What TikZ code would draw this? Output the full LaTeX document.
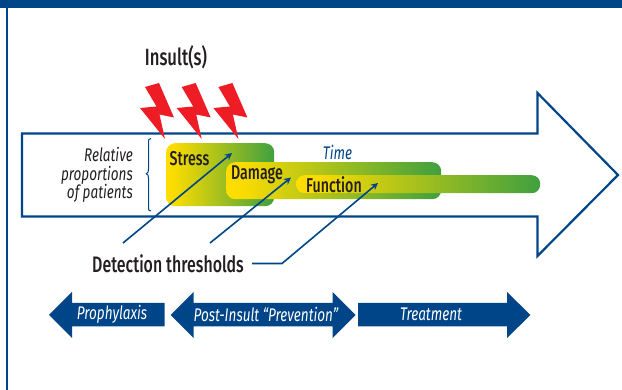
\documentclass[tikz,border=0pt]{standalone}
\usepackage{fontspec}
\setmainfont[FakeStretch=0.74]{Fira Sans}
\newfontfamily\boldcn[FakeStretch=0.71]{Fira Sans Medium}
\usetikzlibrary{arrows.meta}
\definecolor{navy}{HTML}{004587}
\definecolor{ylw}{HTML}{FFDD00}
\definecolor{grn}{HTML}{3FA03F}
\definecolor{bolt}{HTML}{EE1C25}
\definecolor{ink}{HTML}{231F20}
\pgfdeclarehorizontalshading{ygshade}{100bp}{color(0bp)=(ylw); color(25bp)=(ylw); color(29bp)=(ylw!97!grn); color(75bp)=(grn); color(100bp)=(grn)}
\tikzset{
  band/.style={inner sep=0pt,shading=ygshade,rounded corners=#1,anchor=north west},
  lab/.style={inner sep=0pt,text=ink,font=\fontsize{20}{20}\selectfont\boldcn},
  heavy/.style={inner sep=0pt,text=ink,font=\fontsize{22.4}{22.4}\selectfont\boldcn},
  ital/.style={inner sep=0pt,text=ink,font=\fontsize{18.3}{18.5}\selectfont\itshape,align=right},
  pointer/.style={draw=navy,line width=1.6pt,-{Stealth[length=7pt,width=7pt]}},
  wide/.style={fill=navy,draw=none},
  boltshape/.style={fill=bolt,draw=none},
  wtext/.style={inner sep=0pt,text=white,font=\fontsize{18.3}{18.3}\selectfont\itshape},
}
\newcommand{\boltat}[1]{\fill[boltshape,shift={(#1,0)}] (145,87)--(159,83)--(174,117.5)--(159.5,114.5)--(165,139)--(140,108)--(156.5,106.5)--cycle;}
\begin{document}
\begin{tikzpicture}[x=1pt,y=-1pt]
\useasboundingbox (0,0) rectangle (622,390);
% frame
\fill[navy] (0,0) rectangle (622,8.5);
\fill[navy] (5.5,0) rectangle (7.8,390);
% large outlined arrow
\draw[navy,line width=2.2pt,miter limit=10] (22,133.5)--(537.5,133.5)--(537.5,93)--(618,175)--(537.5,256)--(537.5,216.5)--(22,216.5)--cycle;
% bolts
\boltat{0}\boltat{36.7}\boltat{73.4}
\node[heavy] (insult) at (176,57) {\fontsize{23.5}{23.5}\selectfont Insult(s)};
% brace
\draw[navy,line width=1pt] (151,138.5) .. controls (148.5,138.5) and (148.5,140) .. (148.5,143) -- (148.5,169) .. controls (148.5,172) and (148,173) .. (146.3,173.7) .. controls (148,174.5) and (148.5,175.5) .. (148.5,178) -- (148.5,207) .. controls (148.5,210) and (148.5,211) .. (151,211);
\node[ital,anchor=east] (rel) at (133,175) {Relative\\proportions\\of patients};
% bands
\node[band=9pt,minimum width=108pt,minimum height=63pt] (stressbox) at (166,143) {};
\node[band=9pt,minimum width=215pt,minimum height=37pt] (damagebox) at (226,162) {};
\node[band=8.5pt,minimum width=244pt,minimum height=18pt] (functionbox) at (296,175) {};
\node[lab] (stress) at (189.5,158.5) {Stress};
\node[lab] (damage) at (257,175) {Damage};
\node[lab] (function) at (334,184.5) {Function};
\node[inner sep=0pt,text=navy,font=\fontsize{18.3}{18.3}\selectfont\itshape] (time) at (337.5,152.5) {Time};
% detection thresholds
\node[heavy] (detect) at (168,263.5) {Detection thresholds};
\coordinate (s0) at (123,243);
\coordinate (s1) at (232,153);
\coordinate (d0) at (210,243);
\coordinate (d1) at (291,177.5);
\coordinate (f0) at (252,263.5);
\coordinate (f1) at (282,263.5);
\coordinate (f2) at (378,183);
\draw[pointer] (s0)--(s1);
\draw[pointer] (d0)--(d1);
\draw[pointer] (f0)--(f1)--(f2);
% lower arrows
\fill[wide] (49,315)--(72,292)--(72,303)--(164.5,303)--(164.5,326.5)--(72,326.5)--(72,338)--cycle;
\fill[wide] (170.5,315)--(193.5,292)--(193.5,303)--(332.5,303)--(332.5,292)--(355.5,315)--(332.5,338)--(332.5,326.5)--(193.5,326.5)--(193.5,338)--cycle;
\fill[wide] (358,303)--(507,303)--(507,292)--(530.5,315)--(507,338)--(507,326.5)--(358,326.5)--cycle;
\node[wtext] (pro) at (112,314) {Prophylaxis};
\node[wtext] (post) at (266,314) {Post-Insult “Prevention”};
\node[wtext] (treat) at (431,314) {Treatment};
\end{tikzpicture}
\end{document}
